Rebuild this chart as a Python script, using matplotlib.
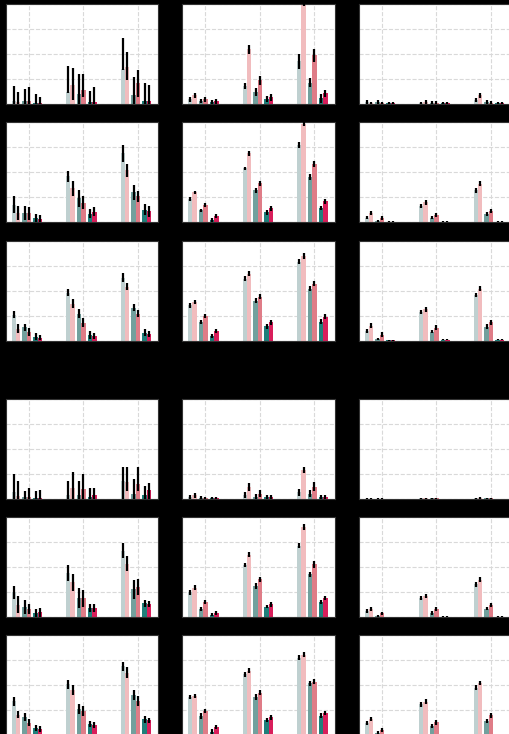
import numpy as np
import matplotlib
matplotlib.use("Agg")
import matplotlib.pyplot as plt

# Series: three condition pairs, each shown as a light and a dark member
series_names = ["A-low", "A-high", "B-low", "B-high", "C-low", "C-high"]
series_colors = ["#bfd0d0", "#f1bcbe", "#72a09d", "#df7c87", "#1f7f7a", "#d91e5b"]
groups = ["G1", "G2", "G3"]

# Mean and error per panel: rows of [group][series]
# The two noisy panels carry separate lower / upper error lengths
r1c1_mean = [[.03, .02, .03, .03, .01, .01], [.12, .19, .10, .14, .02, .02], [.35, .37, .09, .21, .03, .03]]
r1c1_err_lo = [[.03, .02, .03, .03, .01, .01], [.01, .15, .10, .067, .02, .02], [.01, .13, .09, .137, .03, .03]]
r1c1_err_hi = [[.15, .10, .117, .137, .087, .06], [.26, .167, .197, .157, .11, .153], [.307, .147, .18, .127, .177, .16]]
r1c2_mean = [[.05, .09, .03, .05, .025, .03], [.18, .545, .12, .24, .05, .07], [.43, 1.03, .215, .49, .06, .11]]
r1c2_err = [[.025, .025, .02, .025, .02, .025], [.03, .04, .04, .045, .03, .035], [.075, .05, .045, .065, .045, .035]]
r1c3_mean = [[.02, .01, .025, .01, .01, .01], [.01, .02, .015, .015, .01, .01], [.045, .09, .02, .015, .01, .01]]
r1c3_err = [[.02, .01, .02, .01, .01, .01], [.01, .02, .015, .015, .01, .01], [.02, .025, .02, .015, .01, .01]]

r2c1_mean = [[.177, .093, .093, .09, .04, .03], [.46, .34, .24, .197, .085, .105], [.69, .52, .30, .26, .127, .11]]
r2c1_err = [[.087, .07, .07, .067, .047, .04], [.053, .075, .085, .067, .045, .045], [.083, .067, .075, .058, .053, .053]]
r2c2_mean = [[.237, .30, .12, .177, .023, .06], [.54, .69, .32, .39, .10, .14], [.77, .98, .45, .58, .145, .21]]
r2c2_err = [[.02, .018, .017, .02, .02, .02], [.017, .025, .022, .028, .025, .025], [.03, .02, .028, .028, .022, .022]]
r2c3_mean = [[.047, .093, .01, .04, .005, .005], [.16, .20, .047, .073, .005, .005], [.32, .387, .083, .113, .005, .005]]
r2c3_err = [[.017, .02, .01, .02, .007, .007], [.02, .023, .017, .02, .007, .007], [.022, .025, .022, .023, .007, .007]]

r3c1_mean = [[.26, .12, .134, .085, .04, .03], [.48, .37, .27, .18, .055, .05], [.63, .54, .33, .27, .08, .067]]
r3c1_err = [[.034, .044, .034, .042, .032, .025], [.034, .042, .042, .042, .037, .03], [.042, .037, .034, .034, .037, .034]]
r3c2_mean = [[.353, .39, .19, .25, .047, .098], [.62, .67, .40, .44, .143, .185], [.79, .845, .52, .57, .19, .24]]
r3c2_err = [[.024, .02, .02, .02, .02, .02], [.022, .022, .025, .028, .025, .025], [.025, .027, .027, .027, .022, .024]]
r3c3_mean = [[.098, .15, .015, .06, .005, .005], [.283, .313, .09, .13, .01, .01], [.456, .52, .14, .185, .01, .01]]
r3c3_err = [[.02, .024, .01, .022, .005, .005], [.02, .024, .017, .022, .008, .008], [.022, .025, .024, .025, .008, .008]]

r4c1_mean = [[.07, .03, .02, .02, .01, .01], [.04, .11, .04, .10, .02, .04], [.18, .17, .05, .15, .04, .09]]
r4c1_err_lo = [[.07, .03, .02, .02, .01, .01], [.04, .11, .04, .10, .02, .04], [.18, .085, .05, .066, .04, .09]]
r4c1_err_hi = [[.18, .148, .064, .097, .074, .084], [.145, .158, .138, .15, .097, .077], [.14, .15, .15, .175, .09, .07]]
r4c2_mean = [[.02, .04, .015, .012, .012, .01], [.04, .12, .025, .055, .02, .02], [.07, .29, .055, .125, .025, .025]]
r4c2_err = [[.02, .025, .015, .012, .012, .01], [.03, .04, .025, .035, .02, .02], [.035, .03, .035, .045, .02, .02]]
r4c3_mean = [[.005, .005, .005, .005, .002, .002], [.01, .01, .01, .01, .003, .003], [.01, .015, .01, .01, .003, .003]]
r4c3_err = [[.005, .005, .005, .005, .002, .002], [.007, .007, .007, .007, .003, .003], [.007, .008, .007, .007, .003, .003]]

r5c1_mean = [[.25, .127, .107, .08, .045, .05], [.443, .35, .193, .19, .095, .095], [.667, .537, .283, .30, .14, .137]]
r5c1_err = [[.067, .087, .07, .05, .038, .042], [.08, .083, .103, .083, .038, .038], [.072, .073, .095, .08, .033, .03]]
r5c2_mean = [[.25, .297, .087, .153, .027, .043], [.523, .627, .313, .38, .107, .13], [.715, .902, .43, .53, .153, .19]]
r5c2_err = [[.025, .025, .02, .023, .017, .017], [.023, .027, .027, .028, .017, .022], [.025, .033, .025, .033, .023, .02]]
r5c3_mean = [[.065, .087, .015, .04, .003, .003], [.19, .213, .045, .087, .005, .005], [.33, .377, .087, .12, .005, .005]]
r5c3_err = [[.018, .02, .01, .017, .003, .003], [.02, .02, .018, .02, .005, .005], [.025, .023, .018, .02, .005, .005]]

r6c1_mean = [[.34, .207, .183, .127, .072, .063], [.51, .455, .263, .243, .113, .107], [.69, .628, .407, .34, .16, .15]]
r6c1_err = [[.045, .037, .038, .033, .028, .03], [.043, .048, .05, .05, .03, .03], [.047, .055, .05, .05, .033, .028]]
r6c2_mean = [[.38, .39, .193, .243, .038, .083], [.61, .648, .382, .427, .155, .18], [.777, .808, .52, .535, .197, .228]]
r6c2_err = [[.02, .02, .027, .023, .022, .018], [.025, .022, .028, .027, .022, .022], [.023, .025, .025, .025, .023, .02]]
r6c3_mean = [[.122, .165, .027, .055, .003, .003], [.31, .337, .09, .13, .005, .005], [.475, .523, .14, .202, .005, .005]]
r6c3_err = [[.022, .022, .017, .022, .003, .003], [.023, .022, .02, .022, .005, .005], [.025, .023, .02, .025, .005, .005]]

# (mean, lower error, upper error) for every panel, laid out row by row
panels = [
    [(r1c1_mean, r1c1_err_lo, r1c1_err_hi), (r1c2_mean, r1c2_err, r1c2_err), (r1c3_mean, r1c3_err, r1c3_err)],
    [(r2c1_mean, r2c1_err, r2c1_err), (r2c2_mean, r2c2_err, r2c2_err), (r2c3_mean, r2c3_err, r2c3_err)],
    [(r3c1_mean, r3c1_err, r3c1_err), (r3c2_mean, r3c2_err, r3c2_err), (r3c3_mean, r3c3_err, r3c3_err)],
    [(r4c1_mean, r4c1_err_lo, r4c1_err_hi), (r4c2_mean, r4c2_err, r4c2_err), (r4c3_mean, r4c3_err, r4c3_err)],
    [(r5c1_mean, r5c1_err, r5c1_err), (r5c2_mean, r5c2_err, r5c2_err), (r5c3_mean, r5c3_err, r5c3_err)],
    [(r6c1_mean, r6c1_err, r6c1_err), (r6c2_mean, r6c2_err, r6c2_err), (r6c3_mean, r6c3_err, r6c3_err)],
]

W, H = 509, 734
fig = plt.figure(figsize=(W / 100, H / 100), dpi=100, facecolor="black")

col_left = [5.5, 182.0, 358.5]
row_top = [4.0, 122.3, 240.7, 399.3, 517.3, 635.3]
ax_w, ax_h = 152.5, 100.0

bar_w = 0.08
pair_step = 0.20
# offsets: pairs spaced by pair_step, members of a pair side by side; 4th bar sits on the tick
offsets = []
for p in range(3):
    c = (p - 1) * pair_step - bar_w / 2
    offsets += [c - bar_w / 2, c + bar_w / 2]
offsets = np.array(offsets)
x = np.arange(len(groups))

for r, row in enumerate(panels):
    for c, (mean, lo, hi) in enumerate(row):
        left = col_left[c] / W
        bottom = 1 - (row_top[r] + ax_h) / H
        ax = fig.add_axes([left, bottom, ax_w / W, ax_h / H])
        ax.set_facecolor("white")
        mean = np.asarray(mean)
        lo = np.asarray(lo)
        hi = np.asarray(hi)
        for s in range(len(series_names)):
            ax.bar(x + offsets[s], mean[:, s], width=bar_w, color=series_colors[s],
                   label=series_names[s], zorder=2)
            ax.errorbar(x + offsets[s], mean[:, s], yerr=[lo[:, s], hi[:, s]], fmt="none",
                        ecolor="black", elinewidth=1.6, capsize=0, zorder=3)
        ax.set_xlim(-0.431, 2.367)
        ax.set_ylim(0, 1.0)
        ax.set_xticks(x)
        ax.set_xticklabels(groups)
        ax.set_yticks([0, 0.25, 0.5, 0.75, 1.0])
        ax.tick_params(labelbottom=False, labelleft=False, length=0)
        ax.grid(True, linestyle="--", color="#d9d9d9", linewidth=0.8, zorder=0)
        ax.set_axisbelow(True)
        for sp in ax.spines.values():
            sp.set_color("#333333")
            sp.set_linewidth(0.8)

fig.savefig("out.png", dpi=100, facecolor="black")
